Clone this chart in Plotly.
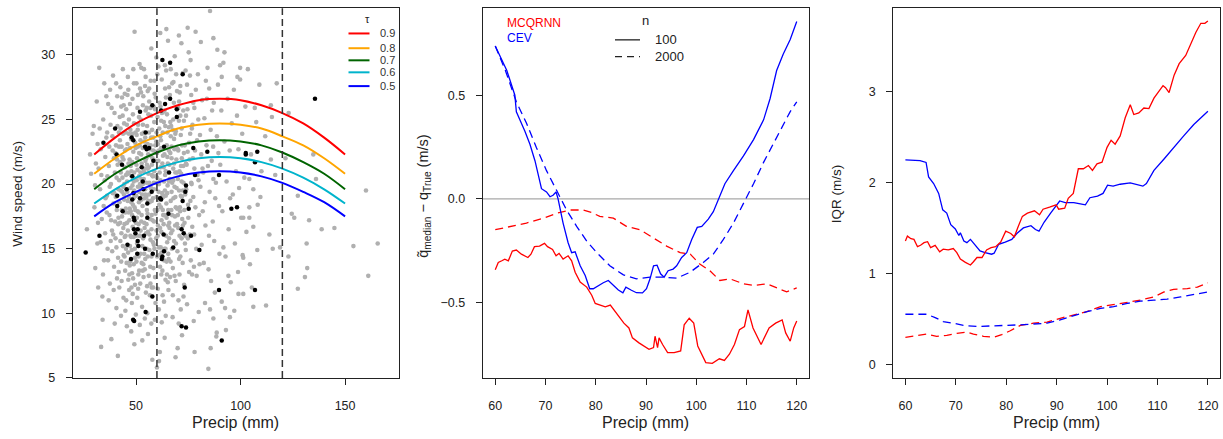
import plotly.graph_objects as go

W, H = 1223, 439
FONT = "Liberation Sans, Arial, Helvetica, sans-serif"
INK = "#222222"

# ---------------- Panel 1 data ----------------
gray_pts = [
    # x 26-36
    (26.5,16.5),(28.5,20.8),(29.2,23.9),(30.1,18.2),(30.8,21.6),(31.5,15.4),(31.9,12.0),(32.4,29.0),(32.8,19.6),
    (33.1,22.7),(33.6,17.3),(34.0,9.5),(34.3,25.0),(34.7,14.1),(35.0,20.3),(29.8,24.5),(31.2,26.4),(33.9,11.3),
    (35.2,16.2),(30.5,13.5),(34.8,27.8),(32.1,21.2),(33.3,7.4),(35.4,18.9),(28.0,22.3),
    (30.4,19.9),(31.8,17.0),(32.6,24.3),(33.4,20.7),(34.2,13.0),(35.3,22.1),(36.2,24.0),(36.6,14.1),(37.4,19.8),
    (38.1,17.2),(38.7,23.7),(39.3,11.8),(39.6,19.3),(34.5,18.3),(31.6,23.1),(35.8,26.8),(37.9,15.6),(33.0,15.5),
    # x 35-42
    (35.8,23.6),(36.1,19.1),(36.4,15.0),(36.7,26.2),(37.0,21.4),(37.3,17.6),(37.5,12.3),(37.8,24.6),(38.0,20.0),
    (38.2,8.0),(38.5,16.4),(38.8,22.6),(39.0,28.4),(39.2,18.5),(39.5,13.6),(39.7,25.5),(39.9,20.9),(40.2,15.8),
    (40.4,23.0),(40.6,10.4),(40.8,18.0),(41.0,26.8),(41.2,21.5),(41.4,14.3),(41.6,19.6),(41.8,24.0),(36.9,11.0),
    (37.6,27.3),(38.6,14.8),(39.4,22.0),(40.0,17.1),(40.9,12.7),(41.5,16.9),(36.3,20.6),(38.3,25.9),(39.8,9.2),
    (40.5,27.8),(41.9,22.9),(37.2,22.9),(39.1,16.1),(40.7,20.5),(41.3,6.7),(36.0,17.8),(38.9,19.3),(41.7,13.2),
    (40.3,19.0),(40.9,21.9),(41.6,17.4),(42.2,25.2),(42.9,14.0),(43.5,20.5),(43.8,23.9),(40.6,15.1),(41.1,24.5),
    (42.0,12.0),(43.2,18.0),(43.9,16.6),(41.9,20.3),(40.1,22.4),(42.5,27.5),
    # x 42-50
    (42.1,18.6),(42.3,23.4),(42.5,15.6),(42.7,20.9),(42.9,26.0),(43.1,12.5),(43.3,17.5),(43.5,22.1),(43.7,28.9),
    (43.9,19.8),(44.1,14.5),(44.3,24.7),(44.5,16.9),(44.7,21.3),(44.9,10.2),(45.1,18.1),(45.3,25.8),(45.5,13.9),
    (45.7,20.2),(45.9,23.1),(46.1,16.4),(46.3,27.3),(46.5,19.0),(46.7,11.8),(46.9,21.9),(47.1,15.2),(47.3,24.2),
    (47.5,17.9),(47.7,8.6),(47.9,20.6),(48.1,13.1),(48.3,26.6),(48.5,18.4),(48.7,22.5),(48.9,15.9),(49.1,19.5),
    (49.3,31.8),(49.5,12.2),(49.7,24.0),(49.9,17.0),(42.4,21.7),(43.0,16.2),(43.6,25.3),(44.2,19.2),(44.8,13.3),
    (45.4,22.7),(46.0,18.7),(46.6,25.0),(47.2,14.0),(47.8,21.0),(48.4,16.7),(49.0,27.8),(49.6,20.4),(42.8,9.8),
    (44.0,11.2),(45.6,9.0),(46.8,13.0),(48.0,10.8),(49.2,7.6),(43.4,19.4),(45.0,16.0),(46.4,20.8),(47.6,23.5),
    (48.8,18.9),(42.6,24.3),(44.6,27.0),(46.2,14.7),(47.4,19.7),(48.6,12.7),(49.8,22.8),
    (44.3,18.8),(44.7,22.6),(45.2,15.0),(45.6,24.6),(46.0,20.9),(46.3,12.6),(46.8,17.2),(47.1,26.2),(47.5,21.4),
    (47.9,14.9),(44.1,26.1),(44.9,17.8),(45.8,19.4),(46.6,23.9),(47.3,16.0),(47.8,12.0),(45.3,11.0),(46.1,28.3),
    (47.0,18.1),(44.5,14.4),
    (48.2,21.7),(48.5,25.4),(48.9,13.8),(49.3,18.2),(49.6,23.2),(50.0,16.0),(50.3,20.3),(50.7,25.9),(51.0,11.9),
    (51.4,18.6),(51.7,23.0),(48.1,17.6),(48.7,28.9),(49.4,15.0),(50.5,22.0),(51.2,16.9),(51.9,27.4),(49.9,9.9),
    (50.9,19.8),(51.5,13.3),(48.4,11.5),(49.1,20.9),
    # x 50-58
    (50.1,19.1),(50.3,23.8),(50.5,15.4),(50.7,21.1),(50.9,26.9),(51.1,13.0),(51.3,17.8),(51.5,22.4),(51.7,29.3),
    (51.9,20.0),(52.1,14.6),(52.3,25.0),(52.5,17.1),(52.7,21.6),(52.9,10.5),(53.1,18.3),(53.3,26.1),(53.5,13.8),
    (53.7,20.4),(53.9,23.3),(54.1,16.6),(54.3,27.6),(54.5,19.2),(54.7,11.6),(54.9,22.0),(55.1,15.0),(55.3,24.5),
    (55.5,17.7),(55.7,8.4),(55.9,20.8),(56.1,12.9),(56.3,26.4),(56.5,18.6),(56.7,22.7),(56.9,15.7),(57.1,19.7),
    (57.3,30.5),(57.5,12.0),(57.7,24.2),(57.9,17.2),(50.4,17.4),(51.0,24.6),(51.6,16.0),(52.2,19.8),(52.8,23.9),
    (53.4,15.8),(54.0,21.2),(54.6,25.7),(55.2,18.0),(55.8,22.3),(56.4,16.1),(57.0,28.0),(57.6,21.5),(50.6,11.2),
    (51.8,9.1),(53.0,7.9),(54.2,13.4),(55.4,10.0),(56.6,11.4),(57.8,6.4),(50.2,27.8),(51.4,20.6),(52.6,18.8),
    (53.8,28.9),(55.0,20.1),(56.2,24.0),(57.4,16.5),(52.0,12.3),(54.4,14.2),(56.8,13.6),(50.8,22.9),(53.2,22.8),
    (55.6,27.2),(57.2,23.6),(51.2,14.4),(52.5,29.0),
    (52.2,16.4),(52.5,22.3),(52.9,19.2),(53.3,24.6),(53.6,12.8),(54.0,18.9),(54.4,23.6),(54.8,16.2),(55.2,21.5),
    (55.6,14.4),(55.9,25.4),(52.4,27.1),(53.0,15.2),(53.7,21.0),(54.2,9.6),(54.9,19.0),(55.5,23.1),(52.7,13.9),
    (53.9,17.0),(54.6,28.3),(55.3,12.1),(55.8,18.7),(52.1,20.9),(53.5,26.8),
    (56.1,21.3),(56.4,14.9),(56.8,19.9),(57.2,25.3),(57.5,17.6),(57.9,22.0),(58.3,13.5),(58.7,24.8),(59.0,18.0),
    (59.4,21.8),(59.8,16.4),(56.3,27.4),(56.9,12.3),(57.6,20.7),(58.1,15.5),(58.8,28.0),(59.3,10.8),(59.7,23.3),
    (56.6,17.3),(57.3,9.2),(58.5,20.1),(59.1,25.8),(57.0,23.0),
    # x 58-66
    (58.1,18.9),(58.3,23.6),(58.5,15.3),(58.7,21.0),(58.9,27.0),(59.1,12.8),(59.3,17.7),(59.5,22.5),(59.7,29.8),
    (59.9,20.1),(60.1,14.4),(60.3,25.2),(60.5,16.8),(60.7,21.8),(60.9,10.3),(61.1,18.4),(61.3,26.3),(61.5,13.6),
    (61.7,20.3),(61.9,23.4),(62.1,16.3),(62.3,28.1),(62.5,19.3),(62.7,11.4),(62.9,22.2),(63.1,14.8),(63.3,24.8),
    (63.5,17.6),(63.7,8.1),(63.9,20.7),(64.1,12.6),(64.3,26.7),(64.5,18.5),(64.7,23.0),(64.9,15.5),(65.1,19.9),
    (65.3,31.1),(65.5,11.8),(65.7,24.4),(65.9,17.0),(58.4,26.0),(59.0,9.5),(59.6,15.8),(60.2,28.5),(60.8,19.4),
    (61.4,7.0),(62.0,24.9),(62.6,13.3),(63.2,21.3),(63.8,29.2),(64.4,16.0),(65.0,22.1),(65.6,14.2),(58.6,19.6),
    (59.8,24.0),(61.0,22.6),(62.2,17.2),(63.4,10.9),(64.6,20.9),(65.8,27.5),(58.2,12.0),(60.0,5.8),(61.6,31.7),
    (63.0,19.0),(64.2,9.8),(65.4,18.0),(59.4,20.6),(61.8,15.1),(63.6,25.7),(64.8,13.0),(64.5,32.0),(61.0,6.3),
    (60.2,18.0),(60.5,23.1),(60.9,15.1),(61.3,20.9),(61.7,26.0),(62.1,13.0),(62.4,19.0),(62.8,24.0),(63.2,16.9),
    (63.6,22.3),(63.9,27.4),(60.4,11.9),(61.1,24.3),(61.9,18.2),(62.6,21.6),(63.4,14.1),(60.7,29.1),(61.5,16.6),
    (62.3,9.3),(63.1,25.6),(63.8,19.5),(60.1,20.5),(62.0,22.8),
    (64.2,21.0),(64.6,17.4),(65.0,24.0),(65.4,14.6),(65.8,20.2),(66.2,26.9),(66.6,18.7),(67.0,22.9),(67.4,16.4),
    (67.8,25.0),(64.4,28.8),(65.2,12.4),(66.0,16.6),(66.8,24.5),(67.6,11.4),(64.9,19.3),(65.7,22.6),(66.5,14.0),
    (67.3,20.1),(67.9,27.9),(64.1,15.0),
    # x 66-74
    (66.1,20.4),(66.4,24.8),(66.7,16.2),(67.0,22.0),(67.3,27.8),(67.6,13.5),(67.9,18.9),(68.2,23.5),(68.5,29.9),
    (68.8,20.9),(69.1,15.4),(69.4,25.9),(69.7,18.1),(70.0,22.7),(70.3,11.0),(70.6,19.5),(70.9,27.1),(71.2,14.4),
    (71.5,21.4),(71.8,24.3),(72.1,17.3),(72.4,28.6),(72.7,20.1),(73.0,12.2),(73.3,23.0),(73.6,16.0),(73.9,25.3),
    (66.3,12.8),(66.9,18.0),(67.5,9.7),(68.1,26.3),(68.7,16.8),(69.3,21.9),(69.9,7.3),(70.5,24.9),(71.1,17.9),
    (71.7,30.9),(72.3,13.9),(72.9,22.4),(73.5,19.2),(66.6,28.9),(67.8,21.2),(69.0,12.5),(70.2,16.6),(71.4,10.3),
    (72.6,25.7),(73.8,14.9),(67.2,15.0),(68.4,19.8),(69.6,27.2),(70.8,21.0),(72.0,8.3),(73.2,17.0),(68.9,6.6),
    (71.9,19.0),(70.5,31.5),(74.7,32.1),
    (68.2,21.6),(68.6,17.5),(69.0,24.1),(69.4,19.7),(69.8,14.8),(70.2,22.6),(70.6,26.4),(71.0,18.2),(71.4,23.8),
    (71.8,15.8),(68.4,12.9),(69.2,28.5),(70.0,20.4),(70.8,13.0),(71.6,20.8),(68.8,23.9),(69.6,16.9),(70.4,9.2),
    (71.2,27.6),(71.9,22.0),
    # extra points in the dense core (x 42-73)
    (42.4,17.0),(43.1,22.9),(43.7,15.2),(44.4,20.0),(45.1,24.0),(45.7,17.0),(46.4,21.6),(47.0,13.7),(47.7,18.6),
    (48.3,23.9),(48.9,20.2),(49.5,14.3),(50.2,21.5),(50.8,17.9),(51.4,25.2),(52.0,16.0),(52.6,20.4),(53.2,13.3),
    (53.8,24.0),(54.4,19.6),(55.0,16.9),(55.6,21.2),(56.2,19.2),(56.8,25.9),(57.4,14.4),(58.0,20.6),(58.6,17.1),
    (59.2,23.0),(59.8,19.0),(60.4,16.0),(61.0,20.0),(61.6,23.7),(62.2,14.7),(62.8,18.0),(63.4,20.2),(64.0,24.5),
    (64.6,14.0),(65.2,21.6),(65.8,15.8),(66.4,22.4),(67.0,19.4),(67.6,24.2),(68.2,15.6),(68.8,19.0),(69.4,22.8),
    (70.0,17.6),(70.6,14.2),(71.2,25.3),(71.8,20.2),(72.4,16.8),
    (42.7,19.5),(43.3,26.7),(44.0,21.9),(44.6,15.9),(45.2,20.7),(45.9,26.9),(46.5,17.8),(47.1,22.8),(47.7,15.9),
    (48.3,19.9),(49.0,24.7),(49.6,18.0),(50.2,14.0),(50.8,24.2),(51.5,19.4),(52.1,23.4),(52.7,17.6),(53.3,20.0),
    (53.9,14.6),(54.5,21.8),(55.1,25.9),(55.7,16.3),(56.3,20.1),(56.9,22.2),(57.5,18.7),(58.2,22.6),(58.8,15.0),
    (59.4,26.7),(60.0,22.4),(60.6,18.8),(61.2,14.5),(61.8,21.3),(62.4,25.5),(63.0,17.6),(63.6,15.0),(64.2,19.1),
    (64.8,25.4),(65.4,16.8),(66.0,21.5),(66.6,23.7),(67.2,17.6),(67.8,20.3),(68.4,22.7),(69.0,18.2),(69.6,20.9),
    (70.2,25.9),(70.8,16.0),(71.4,19.1),(72.0,23.0),(72.6,21.4),
    # x 72-82
    (72.4,19.5),(72.9,24.9),(73.4,15.4),(73.9,21.6),(74.4,27.7),(74.9,18.4),(75.4,13.2),(75.9,23.9),(76.4,20.1),
    (76.9,16.7),(77.4,26.3),(77.9,21.2),(72.7,11.3),(73.7,28.8),(74.7,22.5),(75.7,16.1),(76.7,24.3),(77.7,13.6),
    (73.1,18.0),(76.1,29.6),
    (74.2,21.5),(74.6,25.8),(75.0,17.4),(75.4,23.2),(75.8,28.4),(76.2,14.1),(76.6,20.0),(77.0,24.6),(77.4,19.0),
    (77.8,16.1),(78.2,22.6),(78.6,27.3),(79.0,12.9),(79.4,20.7),(79.8,25.0),(80.2,17.6),(80.6,23.8),(81.0,31.0),
    (81.4,15.3),(81.8,21.2),(74.4,10.7),(75.2,30.2),(76.0,18.7),(76.8,13.0),(77.6,9.4),(78.4,18.2),(79.2,23.4),
    (80.0,10.1),(80.8,19.8),(81.6,26.5),(74.8,15.8),(75.6,21.9),(76.4,26.9),(77.2,22.0),(78.0,7.0),(78.8,15.0),
    (79.6,28.5),(80.4,13.8),(81.2,22.3),(74.0,19.6),(77.9,25.9),(79.9,20.3),(81.9,17.9),(78.5,31.8),
    # x 82-90
    (82.2,20.9),(82.7,25.1),(83.2,16.8),(83.7,23.0),(84.2,29.0),(84.7,13.4),(85.2,19.4),(85.7,24.2),(86.2,21.8),
    (86.7,17.1),(87.2,26.3),(87.7,11.6),(88.2,20.1),(88.7,23.7),(89.2,27.7),(89.7,18.3),(82.4,13.9),(83.4,28.0),
    (84.4,21.4),(85.4,10.3),(86.4,25.7),(87.4,15.6),(88.4,8.2),(89.4,22.4),(82.9,18.6),(83.9,26.6),(84.9,16.0),
    (85.9,12.5),(86.9,22.9),(87.9,18.9),(88.9,30.4),(89.9,14.6),(83.0,10.8),(85.0,27.4),(87.0,20.4),
    (87.0,31.3),(85.4,33.4),(87.0,9.6),(85.7,7.3),(84.6,5.7),(88.6,8.5),
    # x 90-103
    (90.3,21.5),(90.8,25.7),(91.3,17.9),(91.8,29.4),(92.3,23.3),(92.8,14.4),(93.3,20.2),(93.8,26.6),(94.3,16.5),
    (94.8,22.6),(95.3,12.4),(95.8,24.7),(96.3,19.2),(96.8,27.3),(97.3,15.4),(97.8,21.0),(98.3,25.3),(98.8,13.2),
    (99.3,19.7),(99.8,28.1),(100.3,17.4),(100.8,23.9),(101.3,11.5),(101.8,20.5),(102.3,26.0),(102.8,16.3),
    (91.0,10.9),(93.0,8.7),(95.0,18.9),(97.0,10.2),(99.0,22.7),(101.0,14.5),(92.3,30.2),(90.2,29.2),(91.0,28.3),
    (99.8,29.0),(98.5,28.3),(94.2,12.9),(92.6,10.4),(94.9,9.7),(91.8,15.1),
    # x 103-120
    (104.2,20.4),(106.1,19.6),(104.2,18.2),(108.2,18.4),(104.2,17.4),(106.1,16.7),(101.3,17.4),(113.8,16.1),
    (115.4,15.0),(118.9,15.1),(101.3,14.3),(104.5,13.8),(99.0,11.5),(106.1,10.5),(112.2,10.6),(105.4,12.0),
    (109.0,27.7),(117.3,27.8),(114.5,26.1),(115.0,25.2),(111.8,23.7),(114.5,21.9),(116.6,20.7),(105.0,22.3),
    (107.5,24.8),(110.0,21.0),(108.0,14.9),(103.5,28.9),(106.8,25.9),(109.5,19.0),
    # x > 120
    (122.9,14.4),(124.5,17.7),(125.7,17.4),(127.4,19.1),(127.4,11.9),(130.8,12.8),(131.6,15.4),(131.9,13.5),
    (132.8,17.2),(134.8,22.3),(136.1,20.4),(138.8,16.5),(144.9,16.6),(154.0,15.2),(160.0,19.5),(161.1,12.9),
    (165.6,15.4),(121.5,22.0),(123.0,25.5),
]

black_pts = [
    (25.9,14.7),(34.4,23.2),(32.5,16.0),(40.0,24.3),(40.7,22.3),(41.0,19.1),(41.0,18.3),(43.3,21.5),(43.6,17.9),
    (45.5,19.6),(45.9,15.3),(47.6,14.2),(47.9,23.6),(48.7,23.4),(48.2,20.6),(48.7,19.3),(48.2,18.8),(48.9,17.4),
    (49.2,17.2),(49.0,16.5),(49.7,16.2),(50.8,16.5),(50.8,15.6),(51.1,15.2),(50.6,14.6),(51.9,18.9),(51.9,25.6),
    (52.7,21.3),(53.2,20.2),(53.5,19.6),(53.8,16.0),(54.3,15.0),(54.6,24.0),(54.3,22.9),(55.1,22.7),(56.2,22.8),
    (55.4,18.5),(55.4,17.4),(57.8,26.1),(58.0,14.6),(58.3,21.8),(57.5,19.4),(57.8,11.3),(54.6,10.1),(48.6,9.5),
    (49.1,9.4),(62.0,25.7),(62.6,29.6),(63.9,26.2),(66.3,29.4),(66.3,26.6),(69.5,25.8),(69.5,25.2),(63.4,22.9),
    (61.5,18.9),(62.0,18.8),(65.5,17.7),(65.8,20.9),(63.2,16.1),(63.4,14.8),(62.3,14.2),(62.6,14.4),(67.8,15.1),
    (72.3,28.5),(73.9,19.9),(73.6,19.4),(72.3,18.7),(71.8,16.5),(72.8,16.2),(75.2,18.1),(76.3,16.0),(77.4,22.8),
    (78.2,20.7),(80.3,14.9),(73.3,12.0),(71.8,9.0),(73.9,8.9),(84.1,22.5),(89.7,20.7),(89.7,11.8),(91.0,7.9),
    (95.6,18.1),(98.3,18.2),(102.5,22.4),(102.5,22.3),(108.0,22.5),(106.9,21.7),(106.9,11.8),(135.6,26.6),
]

curve_x = [30, 40, 50, 60, 70, 80, 90, 100, 110, 120, 130, 140, 150]
taus = ["0.9", "0.8", "0.7", "0.6", "0.5"]
tau_colors = ["#ff0000", "#ffa500", "#006400", "#00b4cc", "#0000ff"]
q90 = [22.3, 23.6, 24.7, 25.5, 26.1, 26.5, 26.6, 26.5, 26.1, 25.5, 24.7, 23.6, 22.3]
q80 = [20.8, 22.0, 23.0, 23.7, 24.3, 24.6, 24.7, 24.6, 24.3, 23.7, 23.0, 22.0, 20.8]
q70 = [19.6, 20.8, 21.7, 22.45, 23.0, 23.3, 23.4, 23.3, 23.0, 22.45, 21.7, 20.8, 19.6]
q60 = [18.5, 19.6, 20.5, 21.2, 21.7, 22.0, 22.1, 22.0, 21.7, 21.2, 20.5, 19.6, 18.5]
q50 = [17.5, 18.6, 19.4, 20.1, 20.6, 20.9, 21.0, 20.9, 20.6, 20.1, 19.4, 18.6, 17.5]
q_curves = [q90, q80, q70, q60, q50]
vlines = [60, 120]

# ---------------- Panel 2 data (median bias) ----------------
cev100_x = [60,62.3,63.9,64.2,65.9,66.9,67.9,68.6,69.2,70.2,70.9,71.5,72.1,72.5,73.5,74.5,75.2,75.9,76.9,77.9,
            78.8,79.5,80.5,81.5,82.5,83.5,84.5,85.4,86.0,87.1,88.1,89.3,90.1,90.8,91.5,92.2,92.9,93.6,94.4,95.4,
            96.1,97.1,98.1,99.1,100.2,101.1,102.4,103.4,104.4,105.7,107.4,109.4,111.4,113.4,114.7,116,117.3,118.7,120]
cev100_y = [0.737,0.619,0.5,0.42,0.326,0.263,0.184,0.104,0.049,0.033,0.01,0.017,0.033,0.0,-0.117,-0.212,-0.26,
            -0.256,-0.323,-0.37,-0.434,-0.434,-0.418,-0.405,-0.394,-0.418,-0.44,-0.454,-0.426,-0.441,-0.453,-0.454,
            -0.434,-0.386,-0.323,-0.32,-0.362,-0.378,-0.347,-0.339,-0.323,-0.283,-0.26,-0.196,-0.138,-0.133,-0.098,
            -0.062,0.0,0.073,0.136,0.207,0.286,0.381,0.484,0.619,0.698,0.769,0.856]

cev2000_x = [60,62,64.2,66.2,68.2,70.2,72.2,74.2,76.2,78.2,80.2,82.8,85.5,88.1,90.8,93.4,96.1,98.8,101.4,103.4,
             105.4,107.4,109.4,111.4,113.4,115.3,117.3,118.7,120]
cev2000_y = [0.737,0.62,0.468,0.366,0.247,0.136,0.041,-0.054,-0.133,-0.204,-0.26,-0.323,-0.367,-0.386,-0.378,
             -0.378,-0.383,-0.354,-0.307,-0.267,-0.196,-0.117,-0.022,0.073,0.176,0.263,0.358,0.421,0.468]

mcq2000_x = [60,62.9,66.2,69.6,72.2,74.9,77.5,79.2,80.8,83.5,86.1,88.8,91.5,94.1,96.8,98.8,100.7,102.7,104.7,
             106.7,109.4,111.4,114,116,118,120]
mcq2000_y = [-0.149,-0.133,-0.117,-0.093,-0.07,-0.054,-0.054,-0.066,-0.085,-0.093,-0.133,-0.149,-0.188,-0.228,
             -0.26,-0.267,-0.315,-0.347,-0.394,-0.386,-0.41,-0.418,-0.41,-0.43,-0.449,-0.43]

mcq100_x = [60,60.6,61.3,61.9,62.6,62.9,63.4,64.2,65.2,66.5,67.1,67.8,68.8,69.8,70.4,71.4,72.1,72.7,73.5,74.5,
            75.2,75.9,76.9,78.2,79.2,79.9,80.9,81.9,82.9,84.3,85.6,86.6,87.3,88.6,89.6,90.6,91.5,91.8,92.3,92.6,
            93.3,94.3,95.6,96.9,97.6,98.6,99.5,100.3,101.9,103.2,104.6,105.6,106.6,107.6,108.6,109.6,110.3,111.3,
            112.9,114.5,115.8,117.1,117.8,118.7,119.4,120]
mcq100_y = [-0.342,-0.307,-0.299,-0.291,-0.299,-0.283,-0.252,-0.247,-0.267,-0.283,-0.267,-0.231,-0.228,-0.215,
            -0.231,-0.244,-0.275,-0.263,-0.291,-0.275,-0.299,-0.354,-0.402,-0.426,-0.465,-0.505,-0.513,-0.521,
            -0.513,-0.56,-0.6,-0.623,-0.671,-0.695,-0.71,-0.726,-0.718,-0.663,-0.718,-0.671,-0.703,-0.742,-0.742,
            -0.734,-0.608,-0.576,-0.6,-0.71,-0.79,-0.794,-0.772,-0.78,-0.75,-0.703,-0.631,-0.616,-0.536,-0.623,
            -0.703,-0.623,-0.6,-0.584,-0.647,-0.687,-0.623,-0.589]

# ---------------- Panel 3 data (IQR) ----------------
iqr_mcq100_x = [60,60.4,61.1,61.7,62.4,63.0,63.7,64.4,65.0,65.9,66.8,67.5,68.5,69.5,70.2,70.9,71.9,72.9,73.5,
                74.2,75.2,76.1,77.0,77.9,78.9,79.9,80.9,81.6,82.4,83.2,84.2,85.6,86.6,87.3,88.6,89.9,90.4,91.6,
                92.3,93.3,94.3,95.3,96.3,97.1,98.0,99.0,100.0,100.8,101.6,102.6,103.6,104.6,105.3,106.3,107.3,
                108.3,109.3,110.3,111.1,111.6,112.3,113.3,114.3,115.6,116.6,117.6,118.6,119.4,120]
iqr_mcq100_y = [1.354,1.408,1.379,1.372,1.292,1.307,1.336,1.347,1.282,1.307,1.235,1.264,1.256,1.271,1.227,1.155,
                1.119,1.09,1.126,1.173,1.173,1.256,1.282,1.292,1.343,1.462,1.437,1.4,1.516,1.625,1.661,1.686,
                1.643,1.704,1.726,1.751,1.704,1.715,1.823,1.877,2.148,2.148,2.184,2.13,2.202,2.22,2.383,2.462,
                2.419,2.509,2.708,2.852,2.744,2.762,2.816,2.809,2.924,2.996,3.061,3.04,2.986,3.177,3.303,3.394,
                3.52,3.646,3.747,3.747,3.773]

iqr_cev100_x = [60,61.6,62.9,64.1,64.6,65.6,66.6,67.4,68.2,69.0,69.9,70.6,70.9,71.6,72.2,72.9,73.9,74.8,75.8,
                76.5,77.1,77.6,78.5,79.8,81.1,82.1,83.4,84.9,85.8,86.5,87.5,88.8,89.5,90.6,91.7,93.4,94.7,95.7,
                96.6,98.1,99.2,100.1,101.2,102.6,104.6,105.9,107.1,107.8,109.3,111.3,113.2,115.2,117.2,120]
iqr_cev100_y = [2.245,2.245,2.238,2.217,2.058,1.986,1.877,1.697,1.661,1.534,1.487,1.415,1.444,1.354,1.336,1.372,
                1.3,1.245,1.227,1.22,1.209,1.22,1.318,1.343,1.372,1.437,1.498,1.523,1.48,1.462,1.56,1.661,1.715,
                1.794,1.776,1.776,1.762,1.751,1.83,1.848,1.877,1.968,1.957,1.978,1.993,1.978,1.957,1.986,2.13,
                2.256,2.383,2.509,2.635,2.78]

iqr_cev2000_x = [60,64.2,65.9,67.5,69.5,71.5,74.1,76.1,79.4,82.7,85.4,88.1,90.7,93.4,96.0,98.7,101.3,104.0,106.6,
                 109.3,111.9,114.6,117.2,120]
iqr_cev2000_y = [0.549,0.549,0.513,0.469,0.451,0.426,0.415,0.422,0.426,0.433,0.44,0.451,0.487,0.534,0.578,0.614,
                 0.632,0.668,0.693,0.704,0.715,0.74,0.765,0.794]

iqr_mcq2000_x = [60,62.2,64.2,66.2,68.2,70.2,72.2,73.5,75.5,77.5,79.1,80.8,82.8,85.4,88.1,90.7,93.4,96.0,98.7,
                 101.3,104.0,106.6,109.3,111.3,113.2,115.9,117.9,120]
iqr_mcq2000_y = [0.296,0.318,0.332,0.307,0.318,0.339,0.354,0.332,0.307,0.296,0.325,0.368,0.426,0.451,0.462,0.505,
                 0.542,0.578,0.632,0.657,0.679,0.704,0.74,0.794,0.823,0.83,0.848,0.895]

RED, BLUE = "#ff0000", "#0000ff"

# ---------------- Layout geometry (pixels) ----------------
def px_x(p):
    return p / W

def px_y(p):
    return 1 - p / H

y_dom = [px_y(384), px_y(8.3)]
x_doms = [[px_x(72.7), px_x(399)], [px_x(482.7), px_x(809.3)], [px_x(893.3), px_x(1220)]]

fig = go.Figure()

# Panel 1
fig.add_trace(go.Scatter(x=[p[0] for p in gray_pts], y=[p[1] for p in gray_pts], mode="markers",
                         marker=dict(size=4.6, color="#b0b0b0"), xaxis="x", yaxis="y",
                         showlegend=False, hoverinfo="skip"))
fig.add_trace(go.Scatter(x=[p[0] for p in black_pts], y=[p[1] for p in black_pts], mode="markers",
                         marker=dict(size=4.5, color="#000000"), xaxis="x", yaxis="y",
                         showlegend=False, hoverinfo="skip"))
for tau, col, q in zip(taus[::-1], tau_colors[::-1], q_curves[::-1]):
    fig.add_trace(go.Scatter(x=curve_x, y=q, mode="lines", line=dict(color=col, width=2, shape="spline"),
                             xaxis="x", yaxis="y", showlegend=False, name=tau))

shapes = []
for v in vlines:
    shapes.append(dict(type="line", xref="x", yref="y domain", x0=v, x1=v, y0=0, y1=1,
                       line=dict(color="#333333", width=1.5, dash="7px,4px"), layer="above"))

# Panel 2
shapes.append(dict(type="line", xref="x2 domain", yref="y2", x0=0, x1=1, y0=0, y1=0,
                   line=dict(color="#a8a8a8", width=1.2), layer="below"))
for xs, ys, col, dash in [(mcq2000_x, mcq2000_y, RED, "8px,5px"), (cev2000_x, cev2000_y, BLUE, "8px,5px"),
                          (mcq100_x, mcq100_y, RED, "solid"), (cev100_x, cev100_y, BLUE, "solid")]:
    fig.add_trace(go.Scatter(x=xs, y=ys, mode="lines", line=dict(color=col, width=1.3, dash=dash),
                             xaxis="x2", yaxis="y2", showlegend=False))

# Panel 3
for xs, ys, col, dash in [(iqr_mcq2000_x, iqr_mcq2000_y, RED, "8px,5px"),
                          (iqr_cev2000_x, iqr_cev2000_y, BLUE, "8px,5px"),
                          (iqr_cev100_x, iqr_cev100_y, BLUE, "solid"),
                          (iqr_mcq100_x, iqr_mcq100_y, RED, "solid")]:
    fig.add_trace(go.Scatter(x=xs, y=ys, mode="lines", line=dict(color=col, width=1.3, dash=dash),
                             xaxis="x3", yaxis="y3", showlegend=False))

# ---------------- Legends (drawn manually) ----------------
ann = []
leg_rows = [34, 49, 61.3, 73.5, 87.5]
ann.append(dict(x=px_x(367), y=px_y(19.5), xref="paper", yref="paper", text="τ", showarrow=False,
                font=dict(family=FONT, size=11, color=INK), xanchor="center", yanchor="middle"))
for tau, col, yy in zip(taus, tau_colors, leg_rows):
    shapes.append(dict(type="line", xref="paper", yref="paper", x0=px_x(348.5), x1=px_x(369.5),
                       y0=px_y(yy), y1=px_y(yy), line=dict(color=col, width=2)))
    ann.append(dict(x=px_x(377.5), y=px_y(yy), xref="paper", yref="paper", text=tau, showarrow=False,
                    font=dict(family=FONT, size=11, color="#333333"), xanchor="left", yanchor="middle"))

ann.append(dict(x=px_x(505), y=px_y(23.3), xref="paper", yref="paper", text="MCQRNN", showarrow=False,
                font=dict(family=FONT, size=12, color=RED), xanchor="left", yanchor="middle"))
ann.append(dict(x=px_x(505), y=px_y(38.3), xref="paper", yref="paper", text="CEV", showarrow=False,
                font=dict(family=FONT, size=12, color=BLUE), xanchor="left", yanchor="middle"))
ann.append(dict(x=px_x(645.5), y=px_y(20.5), xref="paper", yref="paper", text="n", showarrow=False,
                font=dict(family=FONT, size=13, color=INK), xanchor="center", yanchor="middle"))
for yy, lab, dash in [(40.5, "100", "solid"), (57.5, "2000", "7px,5px")]:
    shapes.append(dict(type="line", xref="paper", yref="paper", x0=px_x(615), x1=px_x(640),
                       y0=px_y(yy), y1=px_y(yy), line=dict(color=INK, width=1.3, dash=dash)))
    ann.append(dict(x=px_x(652.5), y=px_y(yy), xref="paper", yref="paper", text=lab, showarrow=False,
                    font=dict(family=FONT, size=13, color=INK), xanchor="left", yanchor="middle"))

# ---------------- Axis titles ----------------
for cx in [235.5, 645.5, 1056.3]:
    ann.append(dict(x=px_x(cx), y=px_y(429.5), xref="paper", yref="paper", text="Precip (mm)", showarrow=False,
                    font=dict(family=FONT, size=16, color=INK), xanchor="center", yanchor="middle"))
ann.append(dict(x=px_x(18), y=px_y(197), xref="paper", yref="paper", text="Wind speed (m/s)", showarrow=False,
                textangle=-90, font=dict(family=FONT, size=13.5, color=INK), xanchor="center", yanchor="middle"))
ann.append(dict(x=px_x(424), y=px_y(200), xref="paper", yref="paper",
                text="q\u0303<sub>median</sub> \u2212 q<sub>True</sub> (m/s)", showarrow=False,
                textangle=-90, font=dict(family=FONT, size=14.5, color=INK), xanchor="center", yanchor="middle"))
ann.append(dict(x=px_x(836.5), y=px_y(197), xref="paper", yref="paper", text="IQR (m/s)", showarrow=False,
                textangle=-90, font=dict(family=FONT, size=13.5, color=INK), xanchor="center", yanchor="middle"))

# ---------------- Axes ----------------
def axis(domain, rng, tickvals, fmt=None, anchor=None, xaxis=True):
    d = dict(domain=domain, range=rng, tickmode="array", tickvals=tickvals,
             showline=True, mirror=True, linecolor=INK, linewidth=1,
             ticks="outside", ticklen=6, tickwidth=1, tickcolor=INK,
             showgrid=False, zeroline=False, anchor=anchor,
             tickfont=dict(family=FONT, size=12.5, color=INK), fixedrange=True)
    if fmt:
        d["tickformat"] = fmt
    d["ticklabelstandoff"] = 10 if xaxis else 8
    return d

fig.update_layout(
    width=W, height=H, margin=dict(l=0, r=0, t=0, b=0),
    paper_bgcolor="white", plot_bgcolor="white", showlegend=False,
    xaxis=axis(x_doms[0], [19.7, 175.8], [50, 100, 150], anchor="y"),
    yaxis=axis(y_dom, [5.0, 33.62], [5, 10, 15, 20, 25, 30], anchor="x", xaxis=False),
    xaxis2=axis(x_doms[1], [57.5, 122.5], [60, 70, 80, 90, 100, 110, 120], anchor="y2"),
    yaxis2=axis(y_dom, [-0.864, 0.92], [-0.5, 0.0, 0.5], fmt=".1f", anchor="x2", xaxis=False),
    xaxis3=axis(x_doms[2], [57.6, 122.4], [60, 70, 80, 90, 100, 110, 120], anchor="y3"),
    yaxis3=axis(y_dom, [-0.15, 3.913], [0, 1, 2, 3], anchor="x3", xaxis=False),
    shapes=shapes, annotations=ann,
)

# remove the default page margin so the figure sits at the window's top-left corner
page_fix = ("document.documentElement.style.margin='0';document.body.style.margin='0';"
            "document.body.style.padding='0';document.documentElement.style.overflow='hidden';"
            "document.body.style.overflow='hidden';")
fig.write_html("out.html", post_script=page_fix, config={"displayModeBar": False, "staticPlot": True})
